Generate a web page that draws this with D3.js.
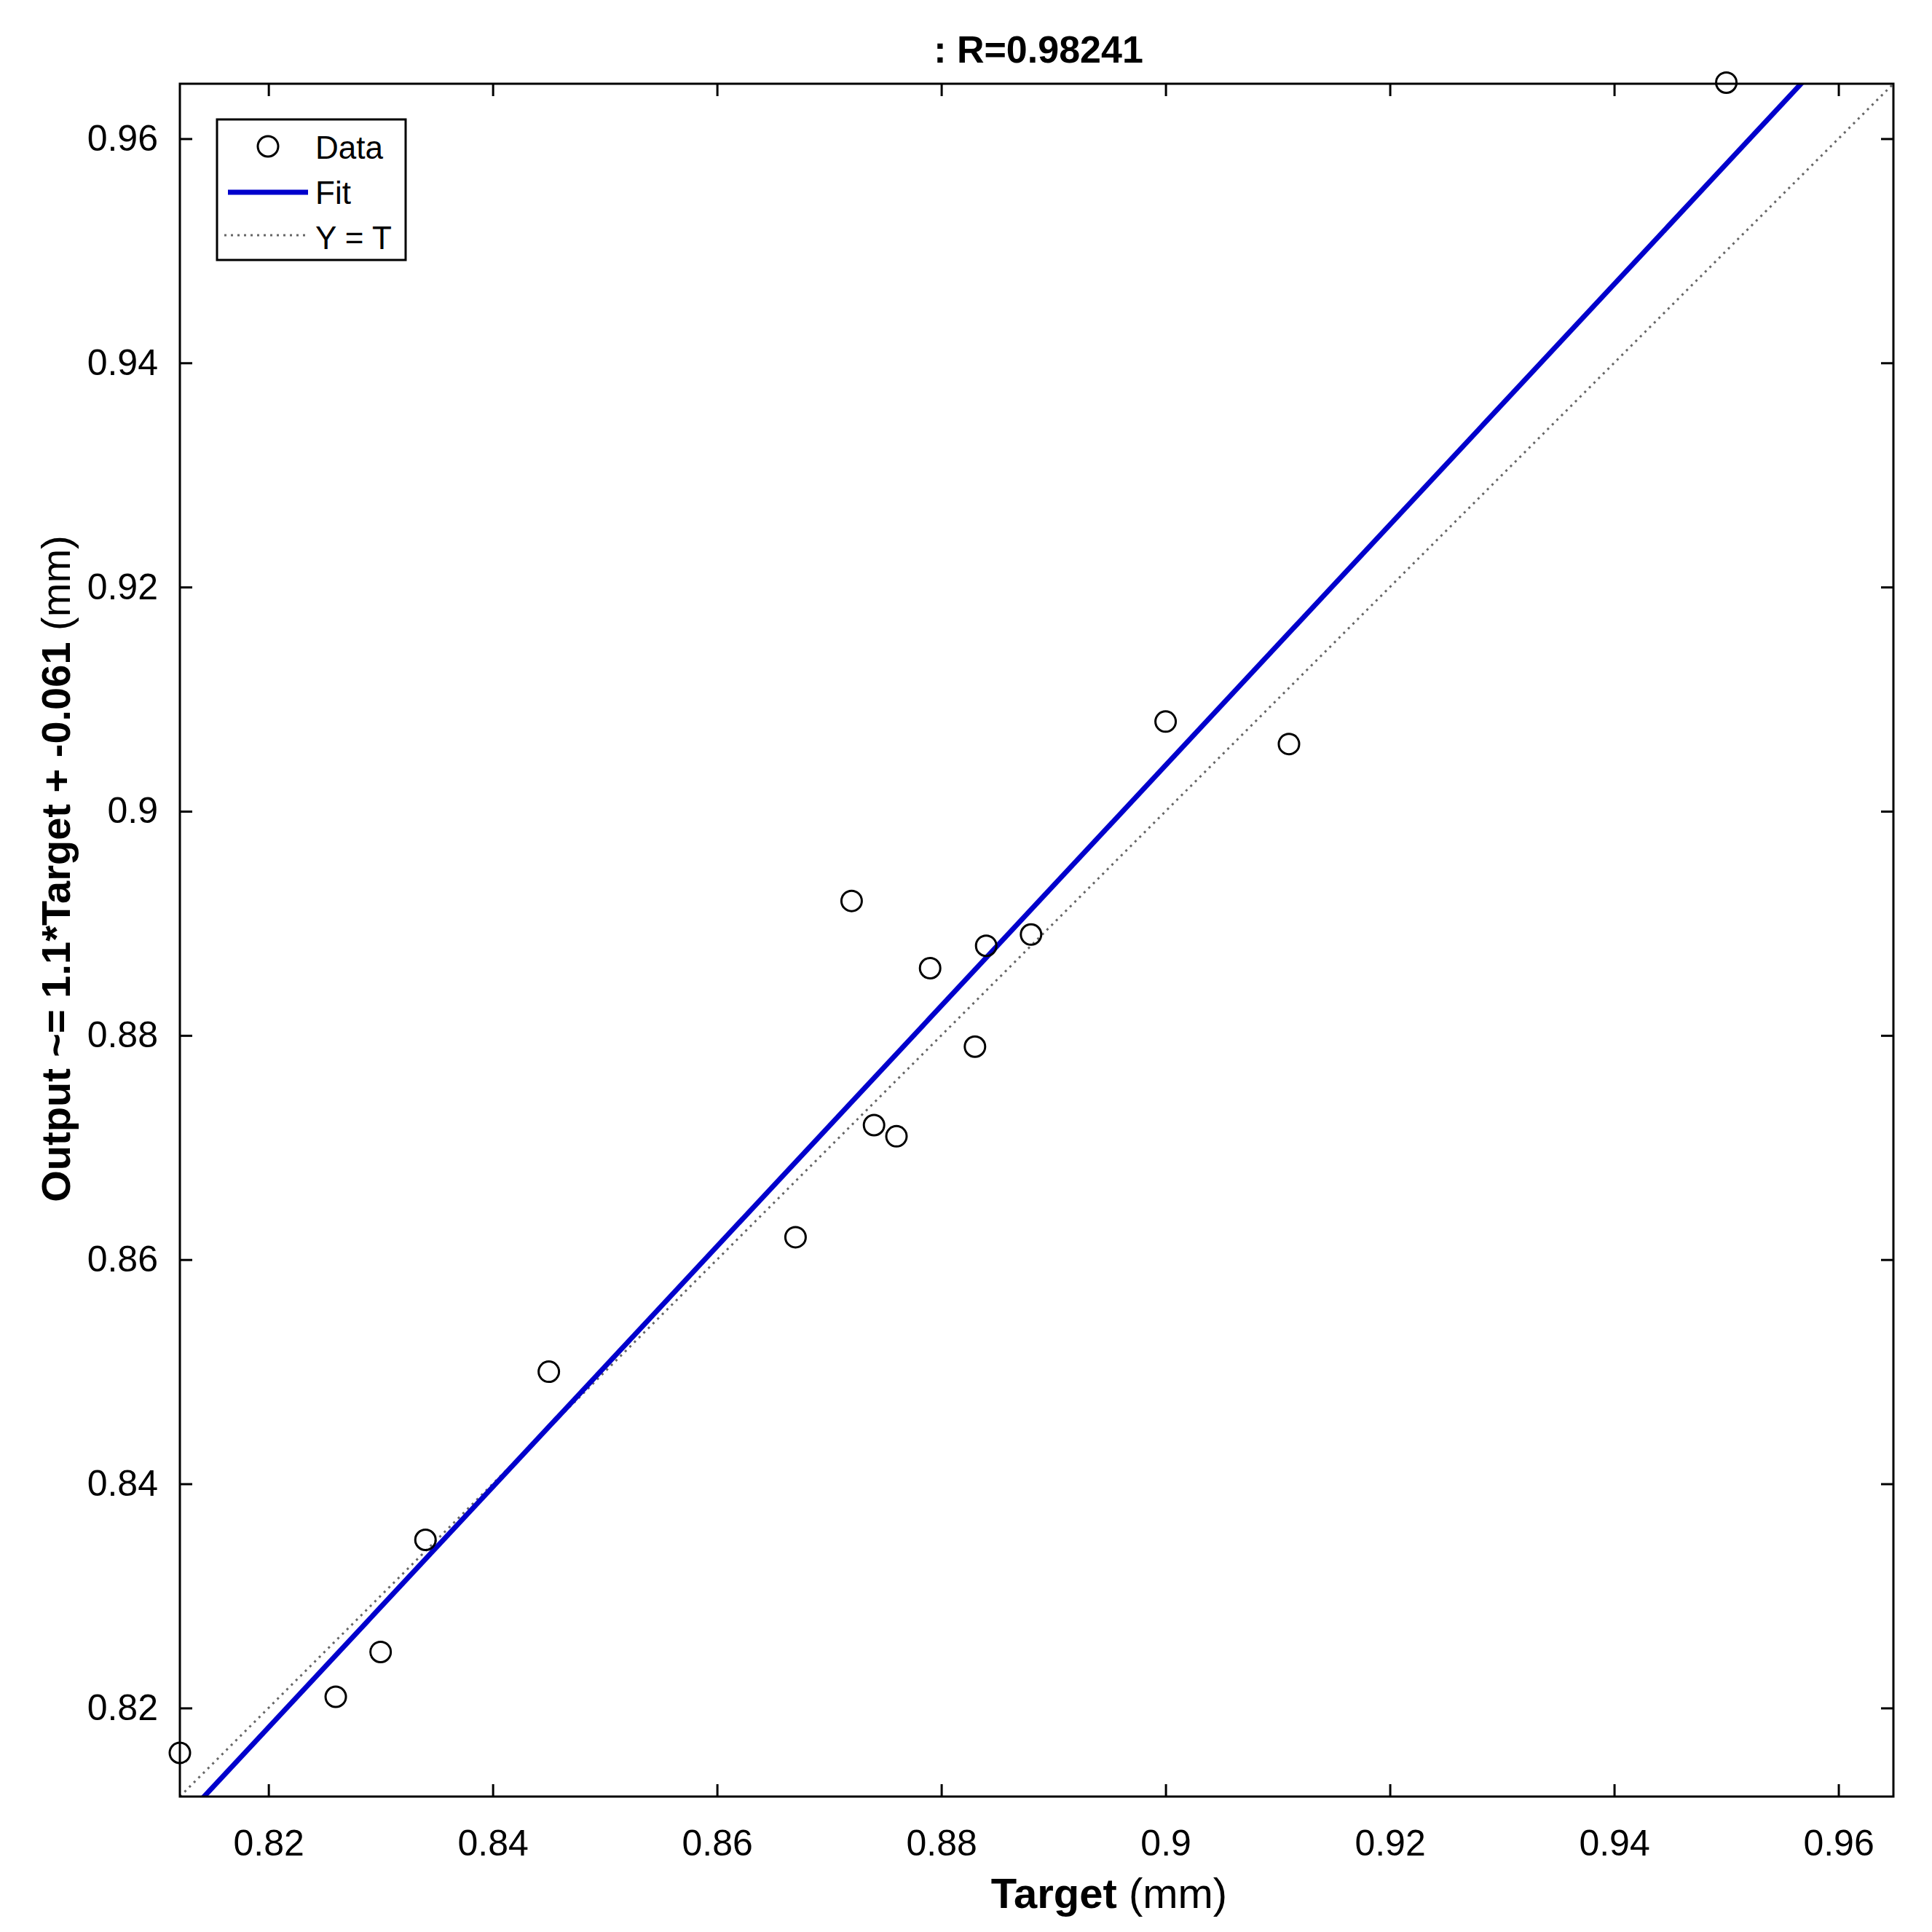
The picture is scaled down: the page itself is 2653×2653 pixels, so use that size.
<!DOCTYPE html>
<html>
<head>
<meta charset="utf-8">
<script src="https://cdn.jsdelivr.net/npm/d3@7"></script>
<style>
  body { margin: 0; background: #fff; }
  text { font-family: "Liberation Sans", Arial, sans-serif; }
</style>
</head>
<body>
<div id="vis"></div>
<script>
// data
var targets = [0.8121, 0.826, 0.830, 0.834, 0.845, 0.867, 0.872, 0.874, 0.876, 0.879, 0.883, 0.884, 0.888, 0.900, 0.911, 0.950];
var outputs = [0.816, 0.821, 0.825, 0.835, 0.850, 0.862, 0.892, 0.872, 0.871, 0.886, 0.879, 0.888, 0.889, 0.908, 0.906, 0.965];
var fitSlope = 1.073;
var fitIntercept = -0.0616;
var tickValues = [0.82, 0.84, 0.86, 0.88, 0.90, 0.92, 0.94, 0.96];
var tickLabels = ['0.82', '0.84', '0.86', '0.88', '0.9', '0.92', '0.94', '0.96'];
var legendLabels = ['Data', 'Fit', 'Y = T'];
var domain = [0.8121, 0.9649];

var W = 2653, H = 2653;
var margin = { top: 115, left: 247, bottom: 2653 - 2467, right: 2653 - 2600 };
var width = W - margin.left - margin.right;
var height = H - margin.top - margin.bottom;

var svg = d3.select('#vis').append('svg')
  .attr('width', W).attr('height', H);

var g = svg.append('g')
  .attr('transform', 'translate(' + margin.left + ',' + margin.top + ')');

var x = d3.scaleLinear().domain(domain).range([0, width]);
var y = d3.scaleLinear().domain(domain).range([height, 0]);

g.append('clipPath').attr('id', 'clip')
  .append('rect').attr('width', width).attr('height', height);

// axes, ticks pointing inward on all four sides
var fmt = function (d, i) { return tickLabels[tickValues.indexOf(d)]; };
function styleAxis(sel, hideText) {
  sel.select('.domain').remove();
  sel.selectAll('line').attr('stroke', '#000').attr('stroke-width', 3);
  sel.selectAll('text').attr('font-size', 50).attr('fill', '#000');
  if (hideText) sel.selectAll('text').remove();
}
g.append('g').attr('transform', 'translate(0,' + height + ')')
  .call(d3.axisBottom(x).tickValues(tickValues).tickFormat(fmt).tickSizeInner(-17).tickPadding(45))
  .call(styleAxis, false);
g.append('g')
  .call(d3.axisTop(x).tickValues(tickValues).tickSizeInner(-17))
  .call(styleAxis, true);
g.append('g')
  .call(d3.axisLeft(y).tickValues(tickValues).tickFormat(fmt).tickSizeInner(-17).tickPadding(30))
  .call(styleAxis, false);
g.append('g').attr('transform', 'translate(' + width + ',0)')
  .call(d3.axisRight(y).tickValues(tickValues).tickSizeInner(-17))
  .call(styleAxis, true);

var plot = g.append('g').attr('clip-path', 'url(#clip)');

// Y = T line
plot.append('line')
  .attr('x1', x(domain[0])).attr('y1', y(domain[0]))
  .attr('x2', x(domain[1])).attr('y2', y(domain[1]))
  .attr('stroke', '#666').attr('stroke-width', 3)
  .attr('stroke-dasharray', '3,6');

// fit line
plot.append('line')
  .attr('x1', x(domain[0])).attr('y1', y(fitSlope * domain[0] + fitIntercept))
  .attr('x2', x(domain[1])).attr('y2', y(fitSlope * domain[1] + fitIntercept))
  .attr('stroke', '#0000cc').attr('stroke-width', 7);

// data points
g.selectAll('circle.pt').data(targets).enter().append('circle')
  .attr('class', 'pt')
  .attr('cx', function (d) { return x(d); })
  .attr('cy', function (d, i) { return y(outputs[i]); })
  .attr('r', 14)
  .attr('fill', 'none').attr('stroke', '#000').attr('stroke-width', 3);

// frame
g.append('rect').attr('width', width).attr('height', height)
  .attr('fill', 'none').attr('stroke', '#000').attr('stroke-width', 3);

// legend
var lg = g.append('g').attr('transform', 'translate(' + (298 - margin.left) + ',' + (164 - margin.top) + ')');
lg.append('rect').attr('width', 259).attr('height', 193)
  .attr('fill', '#fff').attr('stroke', '#000').attr('stroke-width', 3);
lg.append('circle').attr('cx', 70).attr('cy', 37).attr('r', 14)
  .attr('fill', 'none').attr('stroke', '#000').attr('stroke-width', 3);
lg.append('line').attr('x1', 15).attr('x2', 125).attr('y1', 100).attr('y2', 100)
  .attr('stroke', '#0000cc').attr('stroke-width', 7);
lg.append('line').attr('x1', 10).attr('x2', 125).attr('y1', 159).attr('y2', 159)
  .attr('stroke', '#666').attr('stroke-width', 3).attr('stroke-dasharray', '3,6');
lg.selectAll('text.lab').data(legendLabels).enter().append('text')
  .attr('class', 'lab')
  .attr('x', 135).attr('y', function (d, i) { return 54 + i * 62; })
  .attr('font-size', 44).text(function (d) { return d; });

// title and axis labels
svg.append('text').attr('x', 1426).attr('y', 86)
  .attr('text-anchor', 'middle').attr('font-size', 52).attr('font-weight', 'bold')
  .text(': R=0.98241');

var xl = svg.append('text').attr('x', 1523).attr('y', 2620)
  .attr('text-anchor', 'middle').attr('font-size', 58);
xl.append('tspan').attr('font-weight', 'bold').text('Target ');
xl.append('tspan').text(' (mm)');

var yl = svg.append('text')
  .attr('transform', 'translate(96,1193) rotate(-90)')
  .attr('text-anchor', 'middle').attr('font-size', 56);
yl.append('tspan').attr('font-weight', 'bold').text('Output ~= 1.1*Target + -0.061 ');
yl.append('tspan').text(' (mm)');
</script>
</body>
</html>
